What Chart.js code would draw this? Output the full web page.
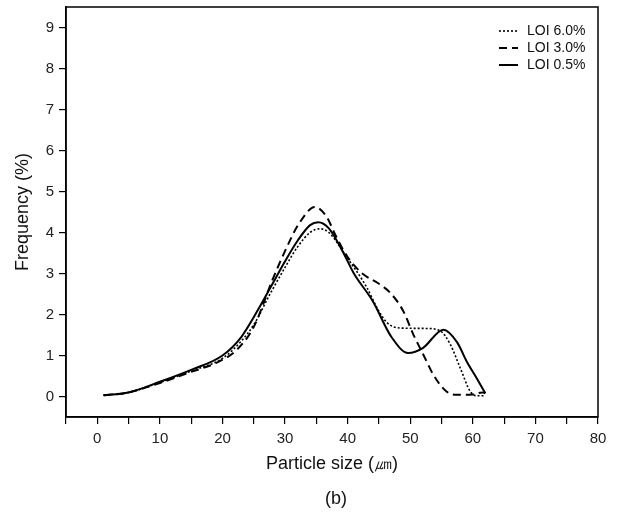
<!DOCTYPE html>
<html>
<head>
<meta charset="utf-8">
<script src="https://cdn.jsdelivr.net/npm/chart.js@4.4.0/dist/chart.umd.min.js"></script>
<style>
body{margin:0;background:#fff;}
</style>
</head>
<body>
<canvas id="SizeChart" width="618" height="513"></canvas>
<script>
var SeriesLabels = ["LOI 6.0%", "LOI 3.0%", "LOI 0.5%"];

// LOI 6.0% (dotted)
var Loi60X = [1, 5, 10, 15, 20, 23, 25, 27.6, 30, 32, 34, 35.6, 37, 39.9, 43.1, 44.7, 46.3, 48.4, 52.6, 54.8, 56.4, 58, 59.6, 60.5, 62];
var Loi60Y = [0.03, 0.10, 0.34, 0.62, 0.93, 1.35, 1.75, 2.5, 3.15, 3.65, 4.0, 4.09, 4.0, 3.39, 2.65, 2.16, 1.8, 1.67, 1.66, 1.6, 1.27, 0.69, 0.12, 0.02, 0.02];

// LOI 3.0% (dashed)
var Loi30X = [1, 5, 10, 15, 19, 22.3, 25, 28, 30, 32.2, 34.8, 36.7, 38, 40, 42.5, 44.7, 46.8, 48.9, 50.5, 52.1, 53.7, 55.8, 57.5, 60, 61.5, 62];
var Loi30Y = [0.03, 0.10, 0.33, 0.6, 0.82, 1.14, 1.7, 2.85, 3.55, 4.21, 4.62, 4.37, 3.95, 3.4, 2.98, 2.78, 2.53, 2.08, 1.51, 1.02, 0.53, 0.12, 0.04, 0.05, 0.1, 0.08];

// LOI 0.5% (solid)
var Loi05X = [1, 5, 10, 15, 20, 23, 26, 28, 30, 32, 34, 35.3, 37, 39, 41, 44, 47, 49.7, 52, 55.3, 57.5, 59, 60.6, 62];
var Loi05Y = [0.03, 0.10, 0.36, 0.65, 1.0, 1.45, 2.2, 2.75, 3.3, 3.8, 4.18, 4.25, 4.1, 3.6, 3.0, 2.33, 1.45, 1.06, 1.18, 1.63, 1.32, 0.86, 0.45, 0.08];

var XTickLabels = [0, 10, 20, 30, 40, 50, 60, 70, 80];
var YTickLabels = [0, 1, 2, 3, 4, 5, 6, 7, 8, 9];

var FontName = '"Liberation Sans", Arial, sans-serif';

function ToPoints(xs, ys){
	return xs.map(function(x, i){ return {x: x, y: ys[i]}; });
}

function LineSet(label, xs, ys, width, dash){
	return {
		label: label,
		data: ToPoints(xs, ys),
		borderColor: "#000",
		borderWidth: width,
		borderDash: dash,
		pointRadius: 0,
		fill: false,
		cubicInterpolationMode: "monotone"
	};
}

var FramePlugin = {
	id: "frame",
	afterDraw: function(chart){
		var ctx = chart.ctx;
		var a = chart.chartArea;
		ctx.save();
		ctx.strokeStyle = "#000";
		ctx.lineWidth = 1.5;
		ctx.strokeRect(a.left, a.top, a.right - a.left, a.bottom - a.top);

		// legend in the top right corner
		ctx.font = "14px " + FontName;
		ctx.fillStyle = "#111";
		ctx.textBaseline = "middle";
		chart.data.datasets.forEach(function(ds, i){
			var y = a.top + 24 + i * 17;
			ctx.beginPath();
			ctx.setLineDash(ds.borderDash);
			ctx.lineWidth = ds.borderWidth;
			ctx.moveTo(a.right - 99, y);
			ctx.lineTo(a.right - 80, y);
			ctx.stroke();
			ctx.setLineDash([]);
			ctx.fillText(ds.label, a.right - 71, y);
		});

		ctx.font = "18px " + FontName;
		ctx.textAlign = "center";
		ctx.fillText("(b)", (a.left + a.right) / 2 + 4, 499);
		ctx.restore();
	}
};

new Chart(document.getElementById("SizeChart"), {
	type: "line",
	data: {
		datasets: [
			LineSet(SeriesLabels[0], Loi60X, Loi60Y, 1.6, [2, 2]),
			LineSet(SeriesLabels[1], Loi30X, Loi30Y, 2, [8, 5]),
			LineSet(SeriesLabels[2], Loi05X, Loi05Y, 2, [])
		]
	},
	options: {
		responsive: false,
		animation: false,
		layout: {padding: {top: 7, right: 20, left: 0, bottom: 0}},
		plugins: {
			legend: {display: false},
			tooltip: {enabled: false}
		},
		scales: {
			x: {
				type: "linear",
				min: -5,
				max: 80,
				afterFit: function(s){ s.height = 96; },
				ticks: {
					stepSize: 5,
					autoSkip: false,
					maxRotation: 0,
					padding: 6,
					color: "#222",
					font: {family: FontName, size: 15},
					callback: function(v){ return XTickLabels.indexOf(v) >= 0 ? v : ""; }
				},
				grid: {drawOnChartArea: false, drawTicks: true, tickLength: 7, color: "#000", lineWidth: 1.2},
				border: {display: true, color: "#000", width: 1.5},
				title: {
					display: true,
					text: "Particle size (㎛)",
					color: "#111",
					font: {family: FontName, size: 18},
					padding: {top: 0, bottom: 38}
				}
			},
			y: {
				min: -0.5,
				max: 9.5,
				afterFit: function(s){
					s.width = 66;
					s.paddingTop = 0;
					s.paddingBottom = 0;
				},
				afterBuildTicks: function(s){
					s.ticks = YTickLabels.map(function(v){ return {value: v}; });
				},
				ticks: {
					padding: 5,
					color: "#222",
					font: {family: FontName, size: 15}
				},
				grid: {drawOnChartArea: false, drawTicks: true, tickLength: 7, color: "#000", lineWidth: 1.2},
				border: {display: true, color: "#000", width: 1.5},
				title: {
					display: true,
					text: "Frequency (%)",
					color: "#111",
					font: {family: FontName, size: 18},
					padding: {top: 12, bottom: 0}
				}
			}
		}
	},
	plugins: [FramePlugin]
});
</script>
</body>
</html>
